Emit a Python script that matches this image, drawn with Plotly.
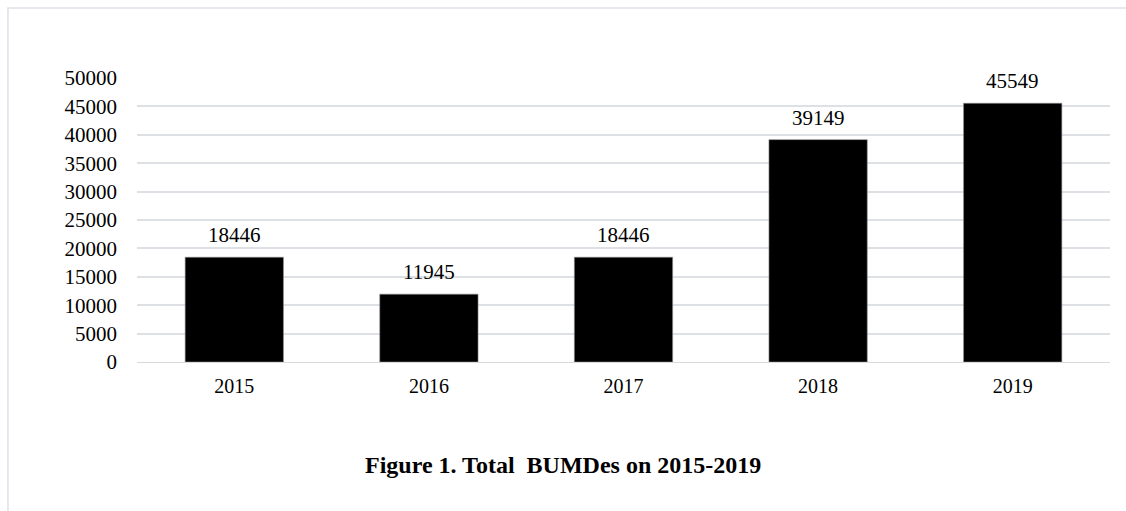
import plotly.graph_objects as go

years = ["2015", "2016", "2017", "2018", "2019"]
totals = [18446, 11945, 18446, 39149, 45549]
y_ticks = list(range(0, 50001, 5000))

font_family = "Liberation Serif, Times New Roman, serif"

fig = go.Figure()
fig.add_trace(go.Bar(
    x=years,
    y=totals,
    marker=dict(color="#000000", line=dict(color="#8c8c8c", width=0.6)),
    width=0.505,
    hoverinfo="x+y",
))

# value labels above each bar (category index positions)
for i, v in enumerate(totals):
    fig.add_annotation(
        x=i, y=v, text=str(v), showarrow=False,
        yanchor="middle", yshift=22,
        font=dict(family=font_family, size=21, color="#000000"),
    )

# caption under the chart
fig.add_annotation(
    xref="paper", yref="paper", x=0.4378, y=-0.3627,
    text="<b>Figure 1. Total  BUMDes on 2015-2019</b>",
    showarrow=False, xanchor="center", yanchor="middle",
    font=dict(family=font_family, size=24, color="#000000"),
)

# light outer frame
fig.add_shape(
    type="rect", xref="paper", yref="paper",
    x0=-0.1326, y0=-1.0, x1=1.2, y1=1.2465,
    line=dict(color="#dde1e6", width=1.5), fillcolor="rgba(0,0,0,0)",
    layer="below",
)

fig.update_layout(
    width=1126, height=511,
    margin=dict(l=137, r=16, t=78, b=149),
    paper_bgcolor="#ffffff", plot_bgcolor="#ffffff",
    showlegend=False,
    font=dict(family=font_family, size=21, color="#000000"),
)
fig.update_xaxes(
    type="category", range=[-0.5, len(years) - 0.5], autorange=False,
    showgrid=False, showline=True, linecolor="#d9d9d9", linewidth=1,
    ticks="", tickfont=dict(size=20), ticklabelstandoff=6,
)
fig.update_yaxes(
    range=[0, 50000], autorange=False,
    tickvals=y_ticks, ticktext=[str(t) for t in y_ticks],
    showgrid=True, gridcolor="#dde1e6", gridwidth=1.5,
    zeroline=False, showline=False, ticks="",
    tickfont=dict(size=21), ticklabelstandoff=19,
)

fig.write_html("out.html")
